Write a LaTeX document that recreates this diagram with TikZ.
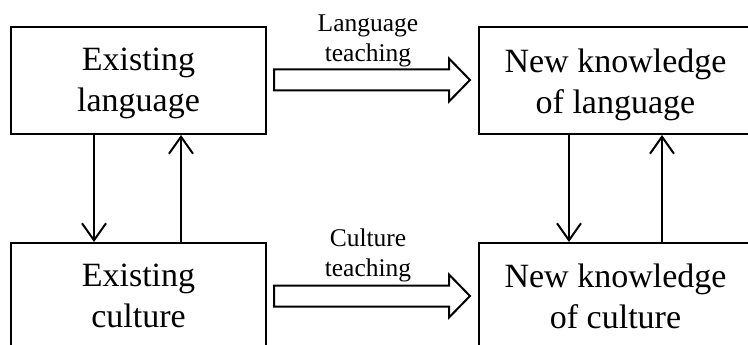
\documentclass[tikz,border=0pt]{standalone}
\usepackage{fontspec}
\setmainfont{Liberation Serif}
\usetikzlibrary{arrows.meta,calc}
\begin{document}
\begin{tikzpicture}[x=1pt,y=-1pt,
  boxnode/.style={draw,line width=2pt,rectangle,inner sep=0pt},
  boxtext/.style={anchor=north,inner sep=0pt,align=center,font=\fontsize{34}{41}\selectfont},
  labeltext/.style={anchor=north,inner sep=0pt,align=center,font=\fontsize{25.5}{30}\selectfont},
  varrow/.style={line width=2pt,-{Straight Barb[length=17pt,width=24pt,line width=2pt]}},
  blockarrow/.style={draw,line width=2pt,line join=miter,fill=white}]
\useasboundingbox (0,0) rectangle (748,345);
\clip (0,0) rectangle (748,345);
% boxes
\node[boxnode,minimum width=255pt,minimum height=107pt] (el) at (138.5,80.5) {};
\node[boxnode,minimum width=255pt,minimum height=157pt] (ec) at (138.5,321.5) {};
\node[boxnode,minimum width=273pt,minimum height=107pt] (nl) at (615.5,80.5) {};
\node[boxnode,minimum width=273pt,minimum height=157pt] (nc) at (615.5,321.5) {};
% box texts
\node[boxtext] (elt) at ($(el.north)+(0,22)$) {Existing\\language};
\node[boxtext] (ect) at ($(ec.north)+(0,21.5)$) {Existing\\culture};
\node[boxtext] (nlt) at ($(nl.north)+(0,22.5)$) {New knowledge\\of language};
\node[boxtext] (nct) at ($(nc.north)+(0,22)$) {New knowledge\\of culture};
% vertical arrows
\draw[varrow] ([xshift=-44.5pt]el.south) -- ([xshift=-44.5pt]el.south |- ec.north);
\draw[varrow] ([xshift=42.5pt]el.south |- ec.north) -- ([xshift=42.5pt]el.south);
\draw[varrow] ([xshift=-46.5pt]nl.south) -- ([xshift=-46.5pt]nl.south |- nc.north);
\draw[varrow] ([xshift=46.5pt]nl.south |- nc.north) -- ([xshift=46.5pt]nl.south);
% block arrows
\coordinate (s1) at ($(el.north east)+(7,54)$);
\coordinate (t1) at ($(nl.north west)+(-8,54)$);
\coordinate (s2) at ($(ec.north east)+(7,54)$);
\coordinate (t2) at ($(nc.north west)+(-8,54)$);
\draw[blockarrow] ($(s1)+(0,-10.5)$) -- ($(t1)+(-21,-10.5)$) -- ($(t1)+(-21,-21.5)$) -- (t1)
  -- ($(t1)+(-21,21.5)$) -- ($(t1)+(-21,10.5)$) -- ($(s1)+(0,10.5)$) -- cycle;
\draw[blockarrow] ($(s2)+(0,-10.5)$) -- ($(t2)+(-21,-10.5)$) -- ($(t2)+(-21,-21.5)$) -- (t2)
  -- ($(t2)+(-21,21.5)$) -- ($(t2)+(-21,10.5)$) -- ($(s2)+(0,10.5)$) -- cycle;
% labels
\node[labeltext] (lt) at (368,14.8) {Language\\teaching};
\node[labeltext] (ctl) at (368,228.6) {Culture\\teaching};
\end{tikzpicture}
\end{document}
